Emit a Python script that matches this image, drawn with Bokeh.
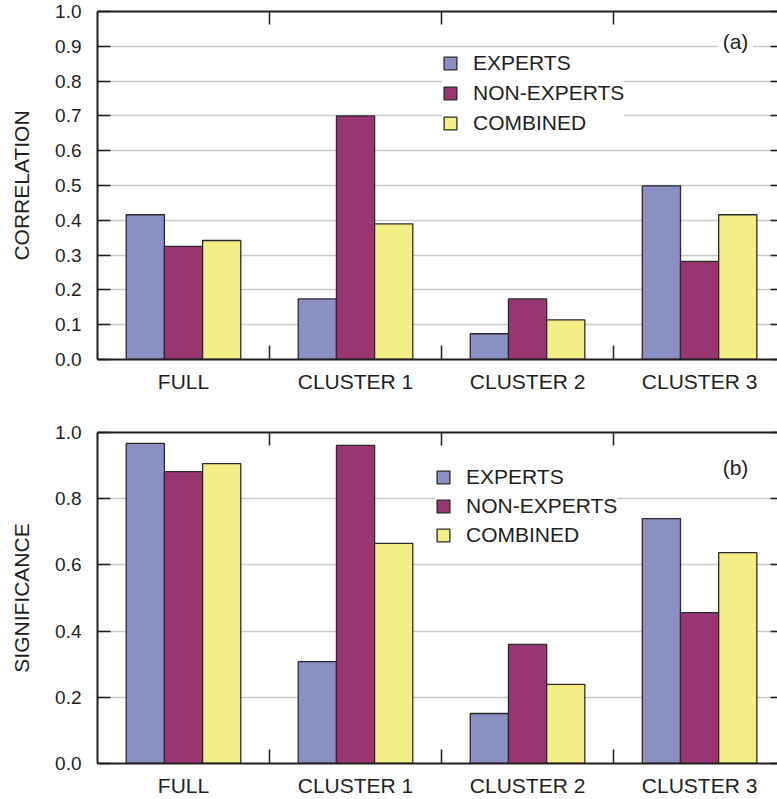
from bokeh.plotting import figure
from bokeh.models import (Range1d, FixedTicker, LinearAxis, Legend, LegendItem,
                          Label, PrintfTickFormatter)
from bokeh.layouts import column
from bokeh.embed import file_html
from bokeh.resources import INLINE

# ---- data ----
categories = ["FULL", "CLUSTER 1", "CLUSTER 2", "CLUSTER 3"]
series_names = ["EXPERTS", "NON-EXPERTS", "COMBINED"]

corr_experts = [0.416, 0.174, 0.074, 0.499]
corr_nonexperts = [0.325, 0.700, 0.174, 0.282]
corr_combined = [0.342, 0.390, 0.114, 0.416]

sig_experts = [0.967, 0.308, 0.151, 0.740]
sig_nonexperts = [0.882, 0.961, 0.360, 0.456]
sig_combined = [0.906, 0.665, 0.239, 0.637]

corr_ticks = [0.0, 0.1, 0.2, 0.3, 0.4, 0.5, 0.6, 0.7, 0.8, 0.9, 1.0]
sig_ticks = [0.0, 0.2, 0.4, 0.6, 0.8, 1.0]

# ---- style ----
COLORS = ["#8a8fc4", "#983672", "#f3ef86"]
DARK = "#231f20"
GRID = "#cacaca"
FONT = "Liberation Sans"

centers = [i + 0.5 for i in range(len(categories))]
separators = [i + 1.0 for i in range(len(categories) - 1)]
BAR_W = 0.222
OFFSETS = [-BAR_W, 0.0, BAR_W]


def make_panel(series, yticks, ylabel, tag, tag_y, legend_loc, spacing,
               height, mbt, mbb):
    p = figure(width=777, height=height, x_range=Range1d(0, 3.953),
               y_range=Range1d(0, 1.0), output_backend="svg",
               toolbar_location=None, min_border_left=97, min_border_right=0,
               min_border_top=mbt, min_border_bottom=mbb)
    p.outline_line_color = None
    p.background_fill_color = "white"

    # grid
    p.xgrid.visible = False
    p.ygrid.ticker = FixedTicker(ticks=yticks)
    p.ygrid.grid_line_color = GRID
    p.ygrid.grid_line_width = 1.5

    # bars
    renderers = []
    for vals, off, col in zip(series, OFFSETS, COLORS):
        xs = [c + off for c in centers]
        r = p.vbar(x=xs, top=vals, width=BAR_W, bottom=0, fill_color=col,
                   line_color="#2a2a2a", line_width=1.3)
        renderers.append(r)

    # bottom axis
    xa = p.xaxis[0]
    xa.ticker = FixedTicker(ticks=centers, minor_ticks=separators)
    xa.major_label_overrides = {c: lab for c, lab in zip(centers, categories)}
    xa.major_tick_in = 0
    xa.major_tick_out = 0
    xa.minor_tick_in = 14
    xa.minor_tick_out = 0
    xa.minor_tick_line_color = DARK
    xa.minor_tick_line_width = 1.5
    xa.axis_line_color = DARK
    xa.axis_line_width = 2
    xa.major_label_standoff = 10
    xa.major_label_text_font = FONT
    xa.major_label_text_font_size = "21px"
    xa.major_label_text_color = DARK

    # left axis
    ya = p.yaxis[0]
    ya.ticker = FixedTicker(ticks=yticks)
    ya.formatter = PrintfTickFormatter(format="%.1f")
    ya.major_tick_in = 13
    ya.major_tick_out = 0
    ya.major_tick_line_color = DARK
    ya.major_tick_line_width = 1.5
    ya.minor_tick_line_color = None
    ya.axis_line_color = DARK
    ya.axis_line_width = 2
    ya.major_label_standoff = 16
    ya.major_label_text_font = FONT
    ya.major_label_text_font_size = "19px"
    ya.major_label_text_color = DARK
    ya.axis_label = ylabel
    ya.axis_label_text_font = FONT
    ya.axis_label_text_font_style = "normal"
    ya.axis_label_text_font_size = "21px"
    ya.axis_label_text_color = DARK
    ya.axis_label_standoff = 19

    # top axis (frame line with inward ticks, no labels)
    top = LinearAxis(ticker=FixedTicker(ticks=separators), major_tick_in=13,
                     major_tick_out=0, major_tick_line_color=DARK,
                     major_tick_line_width=1.5, minor_tick_line_color=None,
                     axis_line_color=DARK, axis_line_width=2,
                     major_label_text_font_size="0px",
                     major_label_text_color=None, major_label_text_alpha=0,
                     major_label_standoff=0)
    p.add_layout(top, "above")

    # right axis (inward ticks only, no labels)
    right = LinearAxis(ticker=FixedTicker(ticks=yticks), major_tick_in=7,
                       major_tick_out=0, major_tick_line_color=DARK,
                       major_tick_line_width=1.5, minor_tick_line_color=None,
                       axis_line_color=None,
                       major_label_text_font_size="0px",
                       major_label_text_color=None, major_label_text_alpha=0,
                       major_label_standoff=0)
    p.add_layout(right, "right")

    # legend
    items = [LegendItem(label=n, renderers=[r]) for n, r in zip(series_names, renderers)]
    leg = Legend(items=items, location=legend_loc, border_line_color=None,
                 background_fill_color="white", background_fill_alpha=1.0,
                 label_text_font=FONT, label_text_font_size="21px",
                 label_text_color=DARK, glyph_width=16, glyph_height=16,
                 label_height=24, spacing=spacing, padding=6, margin=0,
                 label_standoff=15)
    p.add_layout(leg)

    lab = Label(x=3.709, y=tag_y, text=tag, text_font=FONT,
                text_font_size="21px", text_color=DARK, text_align="center",
                text_baseline="middle", background_fill_color="white")
    if "padding" in lab.properties():
        lab.padding = 5
    p.add_layout(lab)
    return p


p1 = make_panel([corr_experts, corr_nonexperts, corr_combined], corr_ticks,
                "CORRELATION", "(a)", 0.915, (345, 224), 6, 400, 11, 41)
p2 = make_panel([sig_experts, sig_nonexperts, sig_combined], sig_ticks,
                "SIGNIFICANCE", "(b)", 0.894, (338, 216), 5, 399, 32, 36)

layout = column(p1, p2, spacing=0)
open("out.html", "w").write(file_html(layout, INLINE))
